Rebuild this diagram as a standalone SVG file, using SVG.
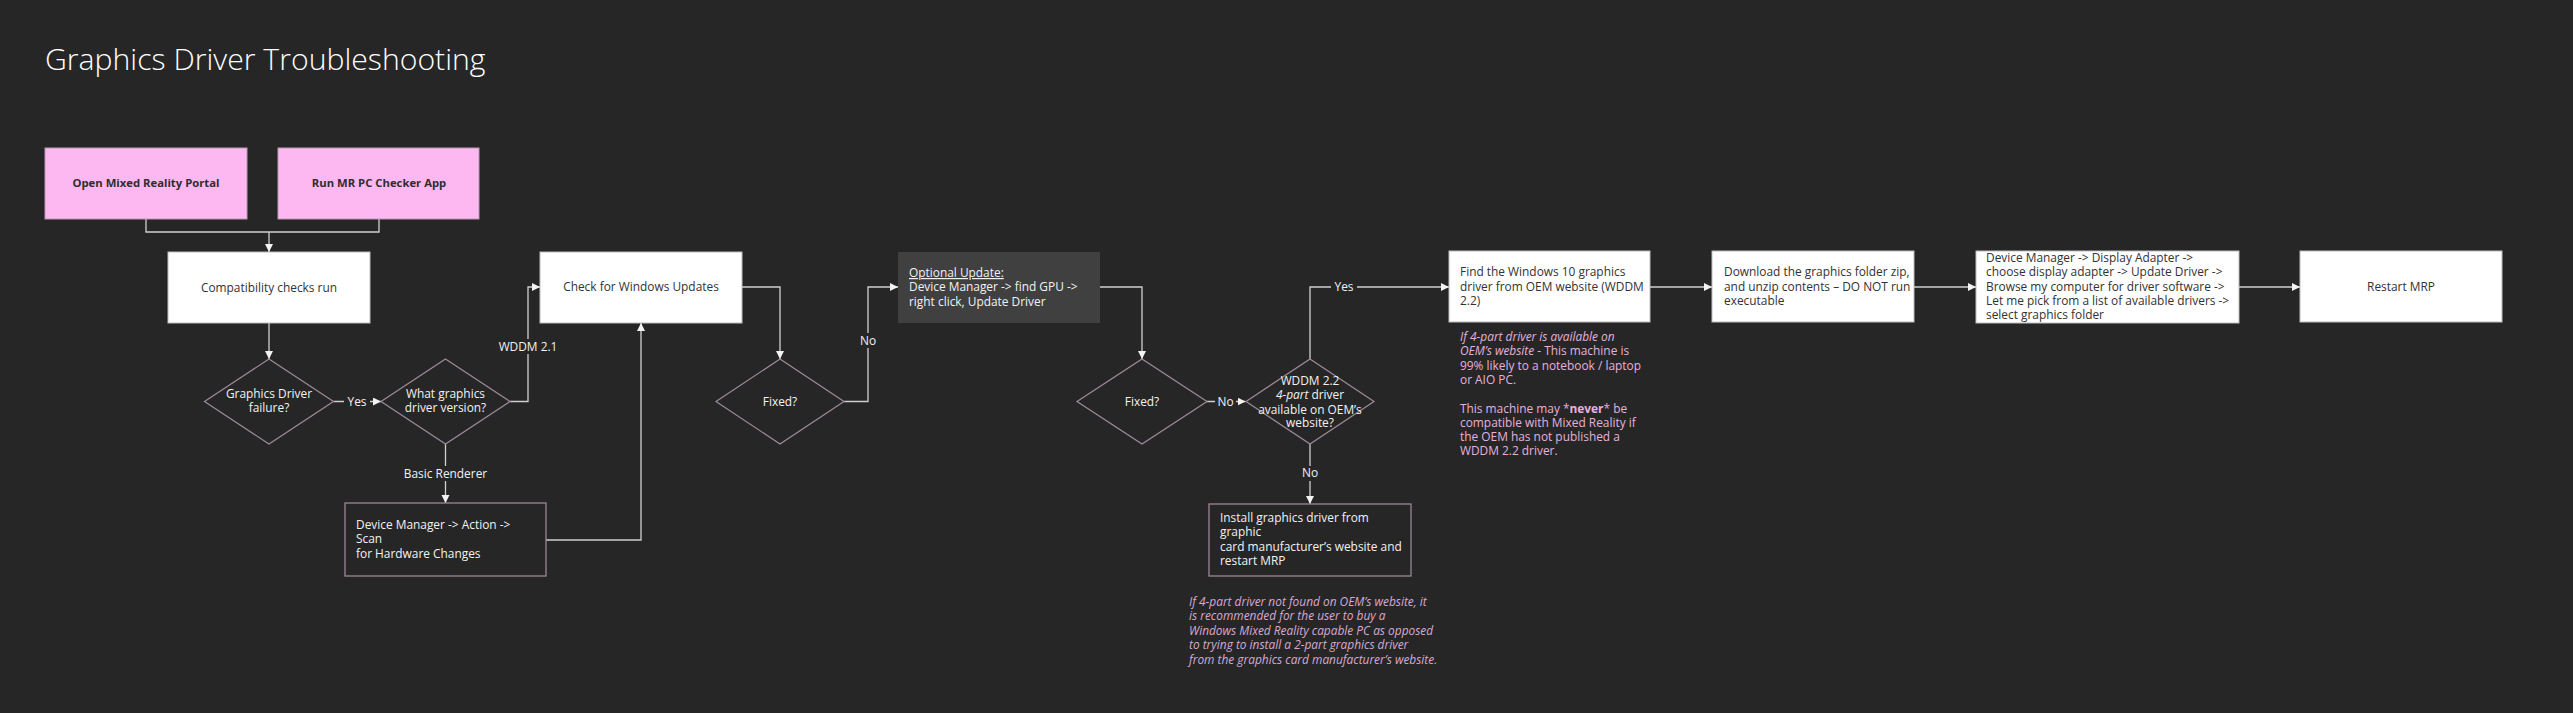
<svg xmlns="http://www.w3.org/2000/svg" width="2573" height="713" viewBox="0 0 2573 713">
<style>
  text { font-family: "Open Sans", "Liberation Sans", sans-serif; font-size: 11.9px; }
  .title { font-size: 30.2px; font-weight: 300; fill: #ffffff; }
  .pink { fill: #FDB7F1; stroke: #b89ab2; stroke-width: 1; }
  .white { fill: #ffffff; stroke: #bdbdbd; stroke-width: 1; }
  .dark { fill: #262626; stroke: #9c8597; stroke-width: 1.3; }
  .grey { fill: #404040; stroke: none; }
  .dia { fill: none; stroke: #a08b9c; stroke-width: 1.2; }
  .tb { fill: #2e2e2e; font-weight: 700; text-anchor: middle; font-size: 11.3px; }
  .tk { fill: #333333; }
  .tkc { fill: #333333; text-anchor: middle; }
  .tw { fill: #f2f2f2; }
  .twc { fill: #f2f2f2; text-anchor: middle; }
  .note { fill: #E6B0DE; }
  .note2 { fill: #D9A9D2; font-style: italic; }
  .conn { fill: none; stroke: #d0d0d0; stroke-width: 1.3; }
  .lbl { fill: #f2f2f2; text-anchor: middle; }
  .lblbg { fill: #262626; }
</style>
<defs>
  <marker id="arr" markerUnits="userSpaceOnUse" markerWidth="9" markerHeight="9" refX="8" refY="4" orient="auto">
    <path d="M0,0 L8,4 L0,8 z" fill="#f2f2f2"/>
  </marker>
</defs>
<rect x="0" y="0" width="2573" height="713" fill="#262626"/>
<text class="title" x="45" y="70">Graphics Driver Troubleshooting</text>

<g id="connectors">
  <path class="conn" d="M146,219 V232 H379 V219"/>
  <path class="conn" d="M269,232 V252" marker-end="url(#arr)"/>
  <path class="conn" d="M269,323 V359" marker-end="url(#arr)"/>
  <path class="conn" d="M333.5,401.5 H381" marker-end="url(#arr)"/>
  <path class="conn" d="M510,401.5 H528 V287 H540" marker-end="url(#arr)"/>
  <path class="conn" d="M445.5,444 V503" marker-end="url(#arr)"/>
  <path class="conn" d="M546,540 H641 V323" marker-end="url(#arr)"/>
  <path class="conn" d="M742,287 H780 V359" marker-end="url(#arr)"/>
  <path class="conn" d="M844,401.5 H868 V287 H898" marker-end="url(#arr)"/>
  <path class="conn" d="M1100,287 H1142 V359" marker-end="url(#arr)"/>
  <path class="conn" d="M1207,401.5 H1245.5" marker-end="url(#arr)"/>
  <path class="conn" d="M1310,359 V287 H1449" marker-end="url(#arr)"/>
  <path class="conn" d="M1310,444 V504" marker-end="url(#arr)"/>
  <path class="conn" d="M1650,287 H1712" marker-end="url(#arr)"/>
  <path class="conn" d="M1914,287 H1976" marker-end="url(#arr)"/>
  <path class="conn" d="M2239,287 H2300" marker-end="url(#arr)"/>
  <rect class="lblbg" x="344" y="394" width="26" height="15"/>
  <text class="lbl" x="357" y="405.5">Yes</text>
  <rect class="lblbg" x="498" y="339" width="60" height="15"/>
  <text class="lbl" x="528" y="351">WDDM 2.1</text>
  <rect class="lblbg" x="403" y="466" width="86" height="15"/>
  <text class="lbl" x="445.5" y="478">Basic Renderer</text>
  <rect class="lblbg" x="858" y="333" width="20" height="15"/>
  <text class="lbl" x="868" y="345">No</text>
  <rect class="lblbg" x="1215" y="394" width="21" height="15"/>
  <text class="lbl" x="1225.5" y="405.5">No</text>
  <rect class="lblbg" x="1331" y="280" width="26" height="15"/>
  <text class="lbl" x="1344" y="291">Yes</text>
  <rect class="lblbg" x="1300" y="466" width="20" height="15"/>
  <text class="lbl" x="1310" y="477">No</text>
</g>

<g id="portal">
  <rect class="pink" x="45" y="148" width="202" height="71"/>
  <text class="tb" x="146" y="187">Open Mixed Reality Portal</text>
</g>
<g id="checker">
  <rect class="pink" x="278" y="148" width="201" height="71"/>
  <text class="tb" x="379" y="187">Run MR PC Checker App</text>
</g>
<g id="compat">
  <rect class="white" x="168" y="252" width="202" height="71"/>
  <text class="tkc" x="269" y="292">Compatibility checks run</text>
</g>
<g id="failure">
  <polygon class="dia" points="269,359 333.5,401.5 269,444 204.5,401.5"/>
  <text class="twc" x="269" y="398">Graphics Driver</text>
  <text class="twc" x="269" y="412">failure?</text>
</g>
<g id="version">
  <polygon class="dia" points="445.5,359 510,401.5 445.5,444 381,401.5"/>
  <text class="twc" x="445.5" y="398">What graphics</text>
  <text class="twc" x="445.5" y="412">driver version?</text>
</g>
<g id="scan">
  <rect class="dark" x="345" y="503" width="201" height="73"/>
  <text class="tw" x="356" y="529">Device Manager -&gt; Action -&gt;</text>
  <text class="tw" x="356" y="543">Scan</text>
  <text class="tw" x="356" y="558">for Hardware Changes</text>
</g>
<g id="winupdate">
  <rect class="white" x="540" y="252" width="202" height="71"/>
  <text class="tkc" x="641" y="291">Check for Windows Updates</text>
</g>
<g id="fixed1">
  <polygon class="dia" points="780,359 844,401.5 780,444 716,401.5"/>
  <text class="twc" x="780" y="405.5">Fixed?</text>
</g>
<g id="optional">
  <rect class="grey" x="898" y="252" width="202" height="71"/>
  <text class="tw" x="909" y="277" text-decoration="underline">Optional Update:</text>
  <text class="tw" x="909" y="291">Device Manager -&gt; find GPU -&gt;</text>
  <text class="tw" x="909" y="306">right click, Update Driver</text>
</g>
<g id="fixed2">
  <polygon class="dia" points="1142,359 1207,401.5 1142,444 1077,401.5"/>
  <text class="twc" x="1142" y="405.5">Fixed?</text>
</g>
<g id="wddm22">
  <polygon class="dia" points="1310,359 1374,401.5 1310,444 1246,401.5"/>
  <text class="twc" x="1310" y="385">WDDM 2.2</text>
  <text class="twc" x="1310" y="399"><tspan font-style="italic">4-part</tspan> driver</text>
  <text class="twc" x="1310" y="414">available on OEM’s</text>
  <text class="twc" x="1310" y="427">website?</text>
</g>
<g id="install">
  <rect class="dark" x="1209" y="504" width="202" height="72"/>
  <text class="tw" x="1220" y="522">Install graphics driver from</text>
  <text class="tw" x="1220" y="536">graphic</text>
  <text class="tw" x="1220" y="551">card manufacturer’s website and</text>
  <text class="tw" x="1220" y="565">restart MRP</text>
</g>
<g id="note-notfound">
  <text class="note2" x="1189" y="606">If 4-part driver not found on OEM’s website, it</text>
  <text class="note2" x="1189" y="620">is recommended for the user to buy a</text>
  <text class="note2" x="1189" y="635">Windows Mixed Reality capable PC as opposed</text>
  <text class="note2" x="1189" y="649">to trying to install a 2-part graphics driver</text>
  <text class="note2" x="1189" y="664">from the graphics card manufacturer’s website.</text>
</g>
<g id="findoem">
  <rect class="white" x="1449" y="251" width="201" height="71"/>
  <text class="tk" x="1460" y="276">Find the Windows 10 graphics</text>
  <text class="tk" x="1460" y="291">driver from OEM website (WDDM</text>
  <text class="tk" x="1460" y="305">2.2)</text>
</g>
<g id="note-available">
  <text class="note" x="1460" y="341"><tspan font-style="italic">If 4-part driver is available on</tspan></text>
  <text class="note" x="1460" y="355"><tspan font-style="italic">OEM’s website</tspan> - This machine is</text>
  <text class="note" x="1460" y="370">99% likely to a notebook / laptop</text>
  <text class="note" x="1460" y="384">or AIO PC.</text>
  <text class="note" x="1460" y="413">This machine may *<tspan font-weight="700">never</tspan>* be</text>
  <text class="note" x="1460" y="427">compatible with Mixed Reality if</text>
  <text class="note" x="1460" y="441">the OEM has not published a</text>
  <text class="note" x="1460" y="455">WDDM 2.2 driver.</text>
</g>
<g id="download">
  <rect class="white" x="1712" y="251" width="202" height="71"/>
  <text class="tk" x="1724" y="276">Download the graphics folder zip,</text>
  <text class="tk" x="1724" y="291">and unzip contents – DO NOT run</text>
  <text class="tk" x="1724" y="305">executable</text>
</g>
<g id="dmdisplay">
  <rect class="white" x="1976" y="251" width="263" height="72"/>
  <text class="tk" x="1986" y="262">Device Manager -&gt; Display Adapter -&gt;</text>
  <text class="tk" x="1986" y="276">choose display adapter -&gt; Update Driver -&gt;</text>
  <text class="tk" x="1986" y="291">Browse my computer for driver software -&gt;</text>
  <text class="tk" x="1986" y="305">Let me pick from a list of available drivers -&gt;</text>
  <text class="tk" x="1986" y="319">select graphics folder</text>
</g>
<g id="restart">
  <rect class="white" x="2300" y="251" width="202" height="71"/>
  <text class="tkc" x="2401" y="291">Restart MRP</text>
</g>
</svg>
